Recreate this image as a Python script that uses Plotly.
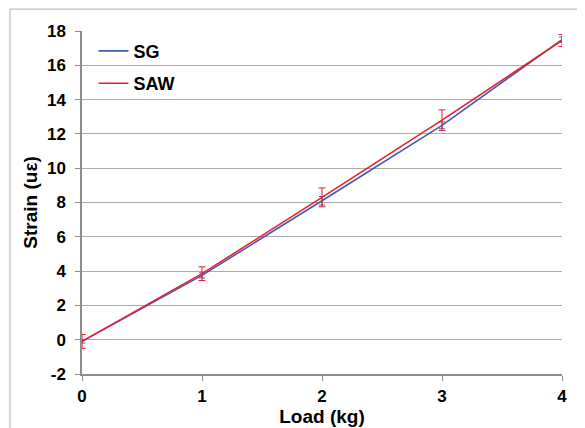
import plotly.graph_objects as go

load = [0, 1, 2, 3, 4]
sg_strain = [-0.1, 3.75, 8.1, 12.5, 17.5]
sg_err = [0.1, 0.15, 0.25, 0.2, 0.15]
saw_strain = [-0.1, 3.85, 8.3, 12.8, 17.45]
saw_err = [0.4, 0.4, 0.55, 0.6, 0.35]

x_ticks = [0, 1, 2, 3, 4]
y_ticks = [-2, 0, 2, 4, 6, 8, 10, 12, 14, 16, 18]

FONT = "Arial, Liberation Sans, sans-serif"
BLUE = "#3F5DB0"
RED = "#EE1D2A"

fig = go.Figure()
fig.add_trace(go.Scatter(
    x=load, y=sg_strain, mode="lines", name="SG", legendgroup="a",
    line=dict(color=BLUE, width=1.6),
    error_y=dict(type="data", array=sg_err, color=BLUE, thickness=1, width=3),
))
fig.add_trace(go.Scatter(
    x=load, y=saw_strain, mode="lines", name="SAW", legendgroup="b",
    line=dict(color=RED, width=1.6),
    error_y=dict(type="data", array=saw_err, color=RED, thickness=1, width=3.5),
))

fig.update_layout(
    width=577, height=420,
    margin=dict(l=74, r=23, t=23, b=54),
    paper_bgcolor="white", plot_bgcolor="white",
    font=dict(family=FONT, size=17, color="black"),
    showlegend=True,
    legend=dict(
        x=0.024, y=0.995, xanchor="left", yanchor="top",
        bgcolor="rgba(0,0,0,0)", tracegroupgap=6, itemwidth=30,
        font=dict(family=FONT, size=18, color="black", weight="bold"),
    ),
    xaxis=dict(
        range=[0, 4], tickvals=x_ticks, ticktext=[str(v) for v in x_ticks],
        showgrid=False, zeroline=False, automargin=False,
        showline=True, linecolor="#8C8C8C", linewidth=1.5,
        ticks="outside", ticklen=5, tickcolor="#8C8C8C", tickwidth=1,
        ticklabelstandoff=1,
        tickfont=dict(family=FONT, size=17, color="black", weight="bold"),
        title=dict(text="Load (kg)", standoff=2,
                   font=dict(family=FONT, size=19, color="black", weight="bold")),
    ),
    yaxis=dict(
        range=[-2, 18], tickvals=y_ticks, ticktext=[str(v) for v in y_ticks],
        showgrid=True, gridcolor="#ABABAB", gridwidth=1.3, zeroline=False,
        automargin=False,
        showline=True, linecolor="#8C8C8C", linewidth=1.5,
        ticks="outside", ticklen=5, tickcolor="#8C8C8C", tickwidth=1,
        ticklabelstandoff=6,
        tickfont=dict(family=FONT, size=17, color="black", weight="bold"),
    ),
    annotations=[dict(
        text="Strain (uε)", textangle=-90, xref="paper", yref="paper",
        x=-0.108, y=0.5, xanchor="center", yanchor="middle", showarrow=False,
        font=dict(family=FONT, size=19, color="black", weight="bold"),
    )],
    shapes=[dict(
        type="rect", xref="paper", yref="paper",
        x0=-0.15, x1=1.08, y0=-0.2, y1=1.064,
        line=dict(color="#BDBDBD", width=1.2), fillcolor="rgba(0,0,0,0)", layer="below",
    )],
)

fig.write_html("out.html")
